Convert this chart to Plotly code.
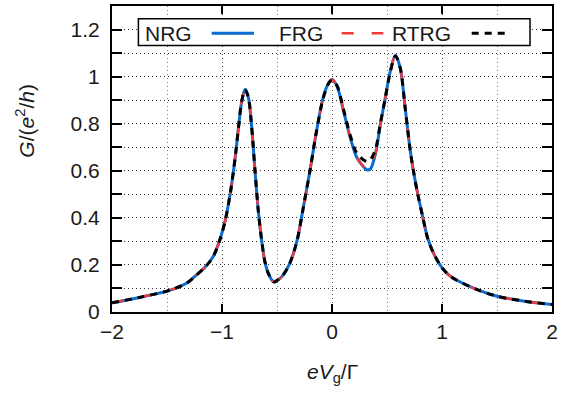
import plotly.graph_objects as go

# ---- data ----
x_vals = [-2.0, -1.75, -1.47, -1.32, -1.25, -1.17, -1.12, -1.075, -1.015, -0.97, -0.925, -0.88,
          -0.85, -0.82, -0.79, -0.76, -0.73, -0.70, -0.67, -0.64, -0.61, -0.58,
          -0.53, -0.50, -0.455, -0.39, -0.32, -0.26, -0.20, -0.14, -0.08, -0.03,
          0.0, 0.045, 0.105, 0.165, 0.225, 0.29, 0.32, 0.35, 0.395, 0.44,
          0.485, 0.53, 0.576, 0.62, 0.665, 0.71, 0.74, 0.78, 0.825, 0.87,
          0.93, 1.0, 1.06, 1.135, 1.32, 1.5, 1.75, 2.0]

nrg = [0.039, 0.062, 0.093, 0.123, 0.150, 0.183, 0.209, 0.240, 0.313, 0.390, 0.503, 0.657,
       0.784, 0.897, 0.946, 0.911, 0.784, 0.601, 0.430, 0.306, 0.214, 0.165,
       0.128, 0.134, 0.151, 0.200, 0.299, 0.446, 0.601, 0.770, 0.911, 0.974,
       0.988, 0.960, 0.854, 0.742, 0.657, 0.615, 0.603, 0.608, 0.672, 0.798,
       0.911, 1.023, 1.091, 1.037, 0.868, 0.690, 0.600, 0.500, 0.404, 0.313,
       0.243, 0.188, 0.158, 0.135, 0.095, 0.067, 0.046, 0.032]

frg = [0.039, 0.062, 0.093, 0.123, 0.150, 0.183, 0.209, 0.240, 0.313, 0.390, 0.503, 0.657,
       0.784, 0.897, 0.945, 0.910, 0.784, 0.601, 0.430, 0.306, 0.214, 0.165,
       0.129, 0.134, 0.151, 0.200, 0.299, 0.446, 0.601, 0.770, 0.911, 0.974,
       0.987, 0.960, 0.855, 0.743, 0.658, 0.616, 0.604, 0.609, 0.673, 0.798,
       0.911, 1.023, 1.090, 1.037, 0.868, 0.690, 0.600, 0.500, 0.404, 0.313,
       0.243, 0.188, 0.158, 0.135, 0.095, 0.067, 0.046, 0.032]

rtrg = [0.039, 0.062, 0.093, 0.123, 0.150, 0.183, 0.209, 0.240, 0.313, 0.390, 0.503, 0.657,
        0.784, 0.897, 0.944, 0.911, 0.784, 0.601, 0.430, 0.306, 0.214, 0.165,
        0.128, 0.134, 0.151, 0.200, 0.299, 0.446, 0.601, 0.770, 0.908, 0.972,
        0.985, 0.962, 0.860, 0.752, 0.675, 0.645, 0.640, 0.648, 0.690, 0.802,
        0.911, 1.020, 1.088, 1.037, 0.868, 0.690, 0.600, 0.500, 0.404, 0.313,
        0.243, 0.188, 0.158, 0.135, 0.095, 0.067, 0.046, 0.032]

series_names = ["NRG", "FRG", "RTRG"]
x_ticks = [-2, -1, 0, 1, 2]
x_tick_labels = ["\u22122", "\u22121", "0", "1", "2"]
y_ticks = [0, 0.2, 0.4, 0.6, 0.8, 1.0, 1.2]
y_tick_labels = ["0", "0.2", "0.4", "0.6", "0.8", "1", "1.2"]

# ---- styles ----
FONT = "Liberation Sans, Arial, sans-serif"
BLUE = "rgb(10,108,206)"
RED = "rgb(240,58,58)"
BLACK = "black"

fig = go.Figure()
fig.add_trace(go.Scatter(x=x_vals, y=nrg, mode="lines", name=series_names[0],
                         line=dict(color=BLUE, width=3, shape="spline", smoothing=0.9)))
fig.add_trace(go.Scatter(x=x_vals, y=frg, mode="lines", name=series_names[1],
                         line=dict(color=RED, width=2.5, dash="12px,18px",
                                   shape="spline", smoothing=0.9)))
fig.add_trace(go.Scatter(x=x_vals, y=rtrg, mode="lines", name=series_names[2],
                         line=dict(color=BLACK, width=3, dash="7px,6px",
                                   shape="spline", smoothing=0.9)))

grid_dash = "1px,3px"
fig.update_xaxes(range=[-2, 2], tickvals=x_ticks, ticktext=x_tick_labels,
                 ticks="inside", ticklen=8, tickwidth=1.8, tickcolor="black",
                 showline=True, linecolor="black", linewidth=2, mirror="ticks",
                 showgrid=True, gridcolor="#555", gridwidth=1, griddash=grid_dash,
                 minor=dict(dtick=0.5, tick0=0, ticks="", showgrid=True,
                            gridcolor="#777", gridwidth=1, griddash=grid_dash),
                 zeroline=False, tickfont=dict(family=FONT, size=21, color="#1a1a1a"))
fig.update_yaxes(range=[0, 1.3], tickvals=y_ticks, ticktext=y_tick_labels,
                 ticks="inside", ticklen=10, tickwidth=1.8, tickcolor="black",
                 showline=True, linecolor="black", linewidth=2, mirror="ticks",
                 showgrid=True, gridcolor="#333", gridwidth=1, griddash=grid_dash,
                 minor=dict(dtick=0.1, tick0=0, ticks="inside", ticklen=10,
                            tickwidth=1.8, tickcolor="black", showgrid=True,
                            gridcolor="#333", gridwidth=1, griddash=grid_dash),
                 zeroline=False, ticklabelstandoff=6,
                 tickfont=dict(family=FONT, size=21, color="#1a1a1a"))

# ---- hand-built legend (text left of sample, like the original) ----
ly = 0.911
shapes = [dict(type="rect", xref="paper", yref="paper", x0=0.06, x1=0.95, y0=0.871, y1=0.958,
               line=dict(color="black", width=1.5), fillcolor="white", layer="above")]
samples = [(0.2266, 0.3227, BLUE, "solid", 3), (0.522, 0.6166, RED, "12px,18px", 2.5),
           (0.8175, 0.90, BLACK, "7px,6px", 3)]
for x0, x1, c, d, w in samples:
    shapes.append(dict(type="line", xref="paper", yref="paper", x0=x0, x1=x1, y0=ly, y1=ly,
                       line=dict(color=c, width=w, dash=d), layer="above"))
annotations = []
for name, xp in zip(series_names, [0.0705, 0.374, 0.632]):
    annotations.append(dict(text=name, xref="paper", yref="paper", x=xp, y=ly,
                            xanchor="left", yanchor="middle", showarrow=False,
                            font=dict(family=FONT, size=21, color="#1a1a1a")))
annotations.append(dict(text="<i>eV</i><sub>g</sub>/\u0393", xref="paper", yref="paper",
                        x=0.5, y=-0.2, xanchor="center", yanchor="middle", showarrow=False,
                        font=dict(family=FONT, size=21, color="#1a1a1a")))
annotations.append(dict(text="<i>G</i>/(<i>e</i><sup>2</sup>/<i>h</i>)", xref="paper", yref="paper",
                        x=-0.198, y=0.625, xanchor="center", yanchor="middle", textangle=-90,
                        showarrow=False, font=dict(family=FONT, size=21, color="#1a1a1a")))

fig.update_layout(width=573, height=393, margin=dict(l=112, r=21, t=4, b=81),
                  plot_bgcolor="white", paper_bgcolor="white", showlegend=False,
                  shapes=shapes, annotations=annotations)

fig.write_html("out.html", config={"displayModeBar": False},
               post_script="document.body.style.margin='0';document.body.style.overflow='hidden';")
